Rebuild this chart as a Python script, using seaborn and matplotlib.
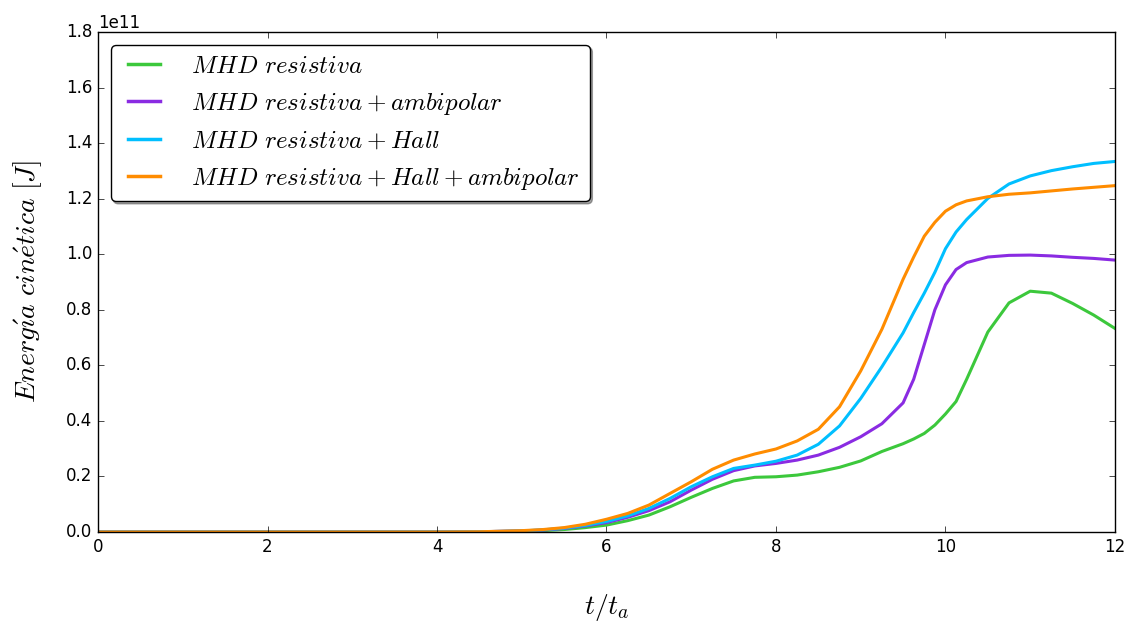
import matplotlib
matplotlib.use("Agg")
import matplotlib.pyplot as plt
import seaborn as sns
import pandas as pd

# Time in Alfven units
t = [0, 1, 2, 3, 4, 4.5, 5, 5.25, 5.5, 5.75, 6, 6.25, 6.5, 6.75, 7, 7.25, 7.5, 7.75,
     8, 8.25, 8.5, 8.75, 9, 9.25, 9.5, 9.625, 9.75, 9.875, 10, 10.125, 10.25,
     10.5, 10.75, 11, 11.25, 11.5, 11.75, 12]

# Kinetic energy (units of 1e11 J)
e_res = [0, 0, 0, 0, 0, 0.0005, 0.003, 0.005, 0.009, 0.016, 0.025, 0.041, 0.061, 0.091, 0.125, 0.157, 0.184, 0.197,
         0.199, 0.205, 0.217, 0.233, 0.256, 0.29, 0.318, 0.335, 0.355, 0.385, 0.425, 0.47, 0.55,
         0.72, 0.825, 0.867, 0.86, 0.823, 0.781, 0.733]
e_amb = [0, 0, 0, 0, 0, 0.001, 0.004, 0.007, 0.013, 0.022, 0.034, 0.053, 0.077, 0.109, 0.151, 0.19, 0.221, 0.238,
         0.247, 0.259, 0.277, 0.305, 0.343, 0.39, 0.465, 0.55, 0.675, 0.80, 0.89, 0.945, 0.97,
         0.99, 0.996, 0.997, 0.994, 0.989, 0.985, 0.979]
e_hall = [0, 0, 0, 0, 0, 0.001, 0.004, 0.008, 0.014, 0.024, 0.038, 0.058, 0.085, 0.121, 0.163, 0.199, 0.229, 0.241,
          0.255, 0.277, 0.316, 0.382, 0.481, 0.595, 0.717, 0.79, 0.86, 0.935, 1.02, 1.08, 1.125,
          1.201, 1.253, 1.282, 1.301, 1.315, 1.327, 1.334]
e_all = [0, 0, 0, 0, 0, 0.001, 0.005, 0.009, 0.016, 0.028, 0.046, 0.067, 0.097, 0.139, 0.181, 0.226, 0.259, 0.281,
         0.299, 0.328, 0.37, 0.451, 0.58, 0.73, 0.91, 0.99, 1.065, 1.115, 1.155, 1.178, 1.192,
         1.207, 1.216, 1.221, 1.228, 1.235, 1.241, 1.247]

labels = [r"$MHD\ resistiva$",
          r"$MHD\ resistiva + ambipolar$",
          r"$MHD\ resistiva + Hall$",
          r"$MHD\ resistiva + Hall + ambipolar$"]
colors = ["#3cc83c", "#8a2be2", "#00bfff", "#ff8c00"]

plt.style.use("classic")
plt.rcParams["mathtext.fontset"] = "cm"
plt.rcParams["font.family"] = ["DejaVu Sans"]

fig = plt.figure(figsize=(11.27, 6.23), dpi=100, facecolor="white")
ax = fig.add_axes([0.087, 0.146, 0.9023, 0.8026])

for vals, lab, col in zip([e_res, e_amb, e_hall, e_all], labels, colors):
    df = pd.DataFrame({"t": t, "E": [v * 1e11 for v in vals]})
    sns.lineplot(data=df, x="t", y="E", ax=ax, color=col, linewidth=2.2, label=lab)

ax.set_xlim(0, 12)
ax.set_ylim(0, 1.8e11)
ax.set_xticks(range(0, 13, 2))
ax.set_xlabel(r"$t/t_a$", fontsize=20, labelpad=26)
ax.set_ylabel(r"$Energ\acute{\imath}a\ cin\acute{e}tica\ [J]$", fontsize=20, labelpad=16)
ax.tick_params(labelsize=12)
ax.yaxis.get_offset_text().set_fontsize(12)

leg = ax.legend(loc="upper left", shadow=True, fancybox=True, fontsize=18,
                handlelength=1.9, handletextpad=0.95, borderpad=0.38, labelspacing=0.5)
for line in leg.get_lines():
    line.set_linewidth(2.5)

fig.savefig("out.png", dpi=100, facecolor="white")
